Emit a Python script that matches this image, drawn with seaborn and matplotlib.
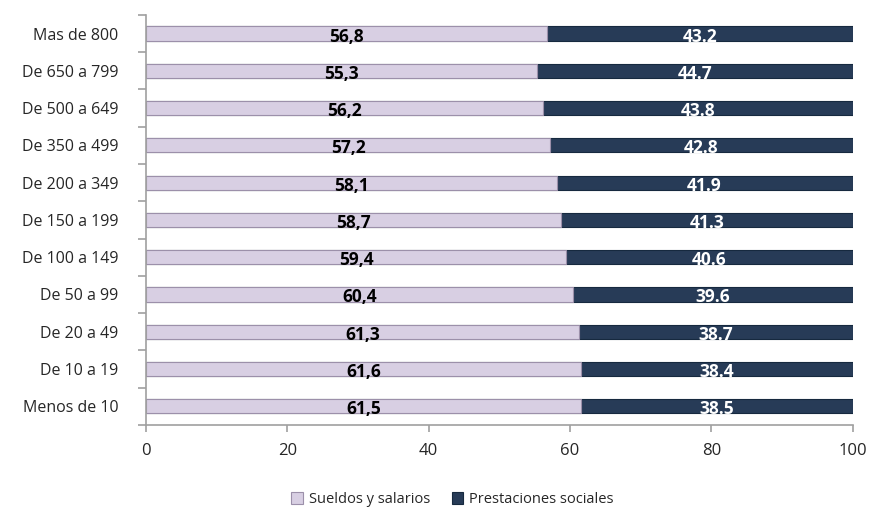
import matplotlib
matplotlib.use("Agg")
import matplotlib.pyplot as plt
import seaborn as sns
import pandas as pd

# -----------------------------
# Data
# -----------------------------
categorias = ["Mas de 800", "De 650 a 799", "De 500 a 649", "De 350 a 499",
              "De 200 a 349", "De 150 a 199", "De 100 a 149", "De 50 a 99",
              "De 20 a 49", "De 10 a 19", "Menos de 10"]
sueldos = [56.8, 55.3, 56.2, 57.2, 58.1, 58.7, 59.4, 60.4, 61.3, 61.6, 61.5]
prestaciones = [43.2, 44.7, 43.8, 42.8, 41.9, 41.3, 40.6, 39.6, 38.7, 38.4, 38.5]

df = pd.DataFrame({"cat": categorias, "sueldos": sueldos, "prest": prestaciones})
df["total"] = df["sueldos"] + df["prest"]

# -----------------------------
# Setup
# -----------------------------
sns.set_style("white")
plt.rcParams["font.family"] = ["Open Sans", "DejaVu Sans"]

light = "#d8cce6"
dark = "#1f3a5f"
axcol = "#a0a0a0"

fig = plt.figure(figsize=(8.7, 5.15), dpi=100)
ax = fig.add_axes([0.168, 0.175, 0.812, 0.796])

sns.barplot(data=df, y="cat", x="total", order=categorias, color=dark,
            width=0.38, edgecolor="#16293f", linewidth=0.8, ax=ax,
            label="Prestaciones sociales")
sns.barplot(data=df, y="cat", x="sueldos", order=categorias, color=light,
            width=0.38, edgecolor="#9c90aa", linewidth=0.8, ax=ax,
            label="Sueldos y salarios")

# value labels
for i, (s, p) in enumerate(zip(sueldos, prestaciones)):
    ax.text(s / 2, i + 0.08, f"{s:.1f}".replace(".", ","), ha="center",
            va="center", fontsize=12.5, fontweight="bold", color="black")
    ax.text(s + p / 2, i + 0.08, f"{p:.1f}", ha="center", va="center",
            fontsize=12.5, fontweight="bold", color="white")

ax.set_xlim(0, 100)
ax.set_ylim(len(categorias) - 0.5, -0.5)
ax.set_xticks([0, 20, 40, 60, 80, 100])
ax.set_xlabel("")
ax.set_ylabel("")
ax.tick_params(axis="x", bottom=True, labelsize=12, length=5, color=axcol,
               width=1.2, direction="out", pad=8)
ax.tick_params(axis="y", left=True, labelsize=11.5, length=0, pad=20)

for side in ["top", "right"]:
    ax.spines[side].set_visible(False)
for side in ["left", "bottom"]:
    ax.spines[side].set_color(axcol)
    ax.spines[side].set_linewidth(1.2)

# y ticks between categories
ax.set_yticks([i + 0.5 for i in range(-1, len(categorias))], minor=True)
ax.tick_params(axis="y", which="minor", left=True, length=6, color=axcol,
               width=1.2)

handles, labels = ax.get_legend_handles_labels()
if ax.get_legend() is not None:
    ax.get_legend().remove()
fig.legend(handles[::-1], labels[::-1], loc="lower center",
           bbox_to_anchor=(0.52, -0.01), ncol=2, frameon=False, fontsize=10.5,
           handlelength=0.8, handleheight=0.8, columnspacing=1.5,
           handletextpad=0.4)

fig.savefig("out.png", dpi=100)
